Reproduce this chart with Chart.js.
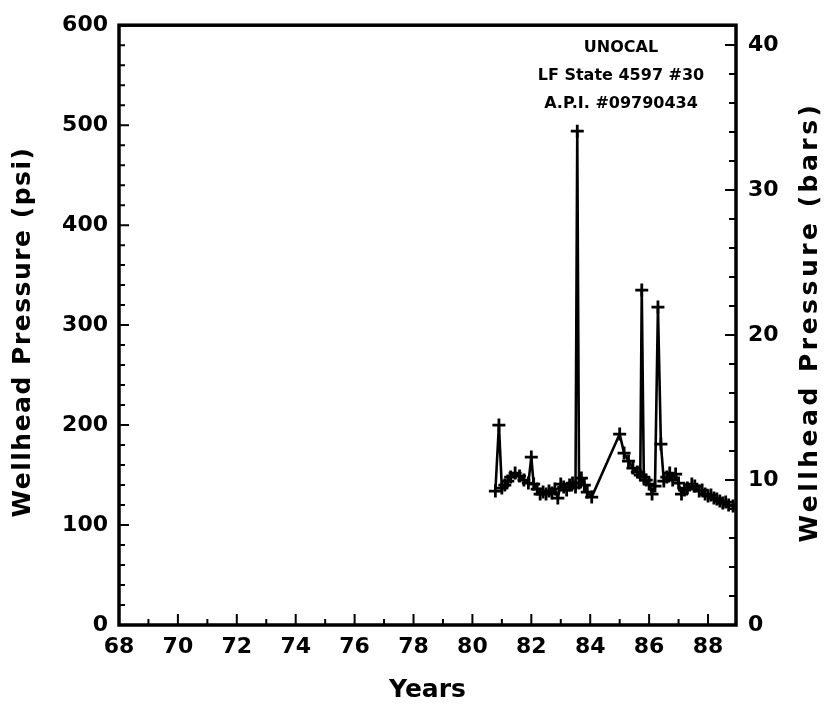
<!DOCTYPE html>
<html>
<head>
<meta charset="utf-8">
<script src="https://cdn.jsdelivr.net/npm/chart.js@4.4.1/dist/chart.umd.min.js"></script>
<style>
  html, body { margin: 0; padding: 0; background: #fff; }
  #wrap { width: 839px; height: 708px; }
</style>
</head>
<body>
<div id="wrap"><canvas id="grafico" width="839" height="708"></canvas></div>
<script>
// Dados (anos decimais, pressão em psi)
const anos = [80.78, 80.9, 81.0, 81.1, 81.2, 81.3, 81.45, 81.6, 81.75, 81.9,
  82.0, 82.08, 82.2, 82.3, 82.4, 82.5, 82.6, 82.7, 82.8, 82.9,
  83.0, 83.1, 83.2, 83.3, 83.4, 83.5, 83.56, 83.62, 83.7, 83.8,
  83.9, 84.05, 85.0, 85.15, 85.3, 85.45, 85.6, 85.7, 85.75, 85.82,
  85.9, 86.0, 86.1, 86.2, 86.3, 86.4, 86.5, 86.6, 86.7, 86.8,
  86.9, 87.0, 87.1, 87.2, 87.3, 87.45, 87.55, 87.7, 87.8, 87.9,
  88.0, 88.1, 88.2, 88.3, 88.4, 88.5, 88.6, 88.7, 88.85];
const pressaoPsi = [134, 200, 137, 140, 144, 148, 152, 149, 145, 142,
  168, 141, 136, 131, 133, 131, 134, 132, 136, 127,
  141, 138, 135, 140, 142, 138, 494, 142, 147, 140,
  133, 128, 191, 172, 164, 157, 153, 150, 335, 148,
  145, 141, 131, 139, 318, 181, 144, 148, 152, 145,
  151, 142, 131, 135, 137, 141, 139, 134, 135, 131,
  129, 130, 127, 126, 124, 122, 123, 120, 119];

const ticksAnos = [68, 70, 72, 74, 76, 78, 80, 82, 84, 86, 88];
const ticksPsi = [0, 100, 200, 300, 400, 500, 600];
const ticksBars = [0, 10, 20, 30, 40];
const legenda = ['UNOCAL', 'LF State 4597 #30', 'A.P.I. #09790434'];
const PSI_POR_BAR = 14.5038;

const fonteNum = { family: 'DejaVu Sans', weight: 'bold', size: 22 };

// texto vertical com espaçamento entre letras
function textoVertical(ctx, texto, x, y, espaco) {
  ctx.save();
  ctx.translate(x, y);
  ctx.rotate(-Math.PI / 2);
  ctx.letterSpacing = espaco + 'px';
  ctx.fillText(texto, 0, 0);
  ctx.restore();
}

// Moldura, marcas internas, títulos verticais e legenda
const moldura = {
  id: 'moldura',
  afterDraw(chart) {
    const { ctx, chartArea: a, scales } = chart;
    ctx.save();
    ctx.strokeStyle = '#000';
    ctx.lineWidth = 3.5;
    ctx.strokeRect(a.left, a.top, a.right - a.left, a.bottom - a.top);

    ctx.lineWidth = 2;
    ctx.beginPath();
    for (let v = Math.ceil(scales.x.min); v <= scales.x.max; v++) {
      const px = scales.x.getPixelForValue(v);
      const len = v % 2 === 0 ? 11 : 6;
      ctx.moveTo(px, a.bottom);
      ctx.lineTo(px, a.bottom - len);
    }
    for (let v = 0; v <= scales.y.max; v += 20) {
      const py = scales.y.getPixelForValue(v);
      const len = v % 100 === 0 ? 10 : 6;
      ctx.moveTo(a.left, py);
      ctx.lineTo(a.left + len, py);
    }
    for (let v = 0; v <= scales.y2.max; v += 2) {
      const py = scales.y2.getPixelForValue(v);
      const len = v % 10 === 0 ? 11 : 7;
      ctx.moveTo(a.right, py);
      ctx.lineTo(a.right - len, py);
    }
    ctx.stroke();

    ctx.fillStyle = '#000';
    ctx.font = 'bold 25px "DejaVu Sans"';
    ctx.textAlign = 'center';
    ctx.textBaseline = 'middle';
    textoVertical(ctx, 'Wellhead Pressure (psi)', 23, 332, 1.5);
    textoVertical(ctx, 'Wellhead Pressure (bars)', 810, 322, 3.5);

    ctx.font = 'bold 16px "DejaVu Sans"';
    legenda.forEach((linha, i) => {
      ctx.fillText(linha, 621, 48 + i * 28);
    });
    ctx.restore();
  }
};

const ctx = document.getElementById('grafico').getContext('2d');

const config = {
  type: 'scatter',
  data: {
    datasets: [{
      label: 'Wellhead Pressure',
      data: anos.map((ano, i) => ({ x: ano, y: pressaoPsi[i] })),
      yAxisID: 'y',
      showLine: true,
      borderColor: '#000',
      borderWidth: 2.6,
      pointStyle: 'cross',
      pointRadius: 6.5,
      pointBorderWidth: 2.8,
      pointBorderColor: '#000',
      pointBackgroundColor: '#000',
      tension: 0
    }]
  },
  options: {
    responsive: false,
    animation: false,
    devicePixelRatio: 1,
    layout: { padding: { top: 20, left: 0, right: 0, bottom: 0 } },
    plugins: {
      legend: { display: false },
      tooltip: { enabled: false }
    },
    scales: {
      x: {
        type: 'linear',
        min: 68,
        max: 88.95,
        grid: { display: false, drawTicks: false },
        border: { display: false },
        afterBuildTicks: (s) => { s.ticks = ticksAnos.map(v => ({ value: v })); },
        afterFit: (s) => { s.height = 83; },
        ticks: { color: '#000', font: fonteNum, padding: 9, maxRotation: 0 },
        title: {
          display: true, text: 'Years', color: '#000',
          font: { family: 'DejaVu Sans', weight: 'bold', size: 25 },
          padding: { top: 0, bottom: 3 }
        }
      },
      y: {
        type: 'linear',
        position: 'left',
        min: 0,
        max: 600,
        grid: { display: false, drawTicks: false },
        border: { display: false },
        afterBuildTicks: (s) => { s.ticks = ticksPsi.map(v => ({ value: v })); },
        afterFit: (s) => { s.width = 119; },
        ticks: { color: '#000', font: fonteNum, padding: 11 }
      },
      y2: {
        type: 'linear',
        position: 'right',
        min: 0,
        max: 600 / PSI_POR_BAR,
        grid: { display: false, drawTicks: false },
        border: { display: false },
        afterBuildTicks: (s) => { s.ticks = ticksBars.map(v => ({ value: v })); },
        afterFit: (s) => { s.width = 103; },
        ticks: { color: '#000', font: fonteNum, padding: 12 }
      }
    }
  },
  plugins: [moldura]
};

const grafico = new Chart(ctx, config);
</script>
</body>
</html>
